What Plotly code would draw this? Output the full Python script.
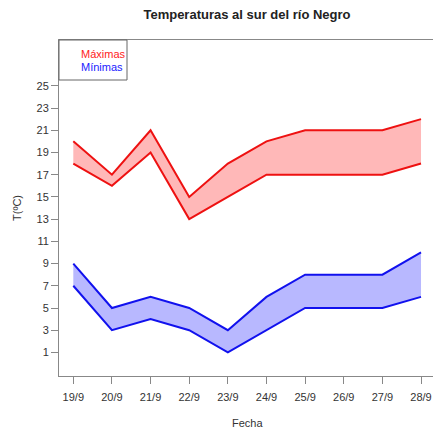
import plotly.graph_objects as go

fechas = ["19/9", "20/9", "21/9", "22/9", "23/9", "24/9", "25/9", "26/9", "27/9", "28/9"]
max_sup = [20, 17, 21, 15, 18, 20, 21, 21, 21, 22]
max_inf = [18, 16, 19, 13, 15, 17, 17, 17, 17, 18]
min_sup = [9, 5, 6, 5, 3, 6, 8, 8, 8, 10]
min_inf = [7, 3, 4, 3, 1, 3, 5, 5, 5, 6]
y_ticks = list(range(1, 26, 2))

x = list(range(len(fechas)))
RED = "#ee1111"
BLUE = "#1111ee"

fig = go.Figure()
fig.add_trace(go.Scatter(x=x, y=max_inf, mode="lines", line=dict(color=RED, width=2), showlegend=False))
fig.add_trace(go.Scatter(x=x, y=max_sup, mode="lines", line=dict(color=RED, width=2), fill="tonexty",
                         fillcolor="rgba(255,0,0,0.28)", showlegend=False))
fig.add_trace(go.Scatter(x=x, y=min_inf, mode="lines", line=dict(color=BLUE, width=2), showlegend=False))
fig.add_trace(go.Scatter(x=x, y=min_sup, mode="lines", line=dict(color=BLUE, width=2), fill="tonexty",
                         fillcolor="rgba(0,0,255,0.28)", showlegend=False))

W, H = 433, 429
L, R, T, B = 59, 0, 40, 53
pw, ph = W - L - R, H - T - B

def px_x(p):
    return (p - L) / pw

def px_y(p):
    return (H - B - p) / ph

font = "Liberation Sans, Arial, sans-serif"
fig.update_layout(
    width=W, height=H,
    margin=dict(l=L, r=R, t=T, b=B),
    plot_bgcolor="white", paper_bgcolor="white",
    font=dict(family=font, size=11, color="#333"),
    title=dict(text="<b>Temperaturas al sur del río Negro</b>", x=px_x(247), xref="paper", xanchor="center",
               y=1 - 14 / H, yref="container", yanchor="middle", font=dict(size=13, color="#222")),
    xaxis=dict(range=[-0.37, 9.31], tickvals=x, ticktext=fechas, showgrid=False, zeroline=False,
               showline=True, mirror=True, linecolor="#888", linewidth=1,
               ticks="outside", ticklen=7, tickcolor="#888", ticklabelstandoff=4,
               tickfont=dict(size=11, color="#333")),
    yaxis=dict(range=[-1.12, 29.12], tickvals=y_ticks, showgrid=False, zeroline=False,
               showline=True, linecolor="#888", linewidth=1,
               ticks="outside", ticklen=7, tickcolor="#888", tickfont=dict(size=11, color="#333")),
    shapes=[dict(type="rect", xref="paper", yref="paper", x0=0, x1=px_x(127), y0=px_y(80), y1=1,
                 line=dict(color="#666", width=1))],
    annotations=[
        dict(text="Máximas", xref="paper", yref="paper", x=px_x(79), y=px_y(54), xanchor="left", yanchor="middle",
             showarrow=False, font=dict(size=11, color="#ff2222")),
        dict(text="Mínimas", xref="paper", yref="paper", x=px_x(79), y=px_y(67), xanchor="left", yanchor="middle",
             showarrow=False, font=dict(size=11, color="#2222ff")),
        dict(text="Fecha", xref="paper", yref="paper", x=px_x(247), y=px_y(423), xanchor="center", yanchor="middle",
             showarrow=False, font=dict(size=11, color="#333")),
        dict(text="T(ºC)", xref="paper", yref="paper", x=px_x(17), y=px_y(208), xanchor="center", yanchor="middle",
             textangle=-90, showarrow=False, font=dict(size=11, color="#333")),
    ],
)

fig.write_html("out.html", config={"displayModeBar": False},
               post_script="document.body.style.margin='0';document.body.style.padding='0';")
